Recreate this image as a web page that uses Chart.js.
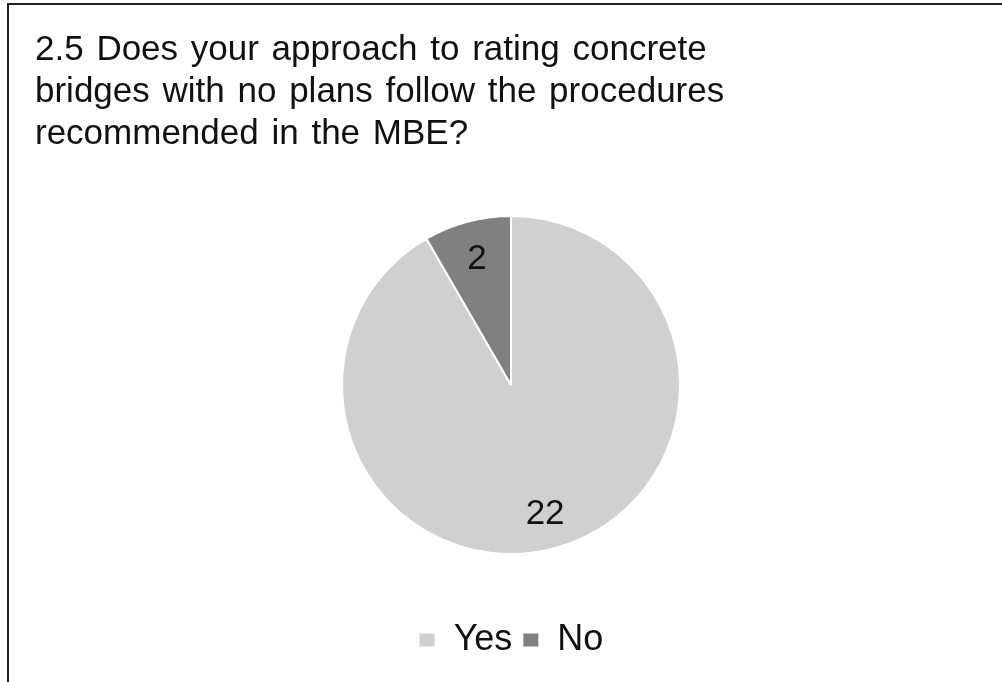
<!DOCTYPE html>
<html>
<head>
<meta charset="utf-8">
<script src="https://cdn.jsdelivr.net/npm/chart.js@4"></script>
<style>
  html, body { margin: 0; padding: 0; background: #fff; }
  #frame {
    position: absolute; left: 7px; top: 3px; width: 1010px; height: 700px;
    border-left: 2px solid #1e1e1e; border-top: 2px solid #1e1e1e;
  }
  #wrap { position: absolute; left: 0; top: 0; width: 1002px; height: 682px; }
</style>
</head>
<body>
<div id="frame"></div>
<div id="wrap"><canvas id="pie" width="1002" height="682"></canvas></div>
<script>
// survey answers
var answers = ['Yes', 'No'];
var counts = [22, 2];
var sliceColors = ['#d0d0d0', '#808080'];
var titleLines = [
  '2.5 Does your approach to rating concrete',
  'bridges with no plans follow the procedures',
  'recommended in the MBE?'
];

var fontFamily = '"Liberation Sans", Arial, sans-serif';

// slightly wider gaps between words, like the office-style title
var wideWords = {
  id: 'wideWords',
  beforeDraw: function (chart) {
    chart.ctx.save();
    if ('wordSpacing' in chart.ctx) chart.ctx.wordSpacing = '3px';
  },
  afterDraw: function (chart) {
    chart.ctx.restore();
  }
};

// write the count inside each slice
var sliceLabels = {
  id: 'sliceLabels',
  afterDatasetsDraw: function (chart) {
    var ctx = chart.ctx;
    var meta = chart.getDatasetMeta(0);
    ctx.save();
    ctx.font = '35px ' + fontFamily;
    ctx.fillStyle = '#111';
    ctx.textAlign = 'center';
    ctx.textBaseline = 'middle';
    meta.data.forEach(function (arc, i) {
      var mid = (arc.startAngle + arc.endAngle) / 2;
      var r = arc.outerRadius * 0.78;
      ctx.fillText(String(counts[i]), arc.x + Math.cos(mid) * r, arc.y + Math.sin(mid) * r + 2);
    });
    ctx.restore();
  }
};

var ctx = document.getElementById('pie').getContext('2d');
new Chart(ctx, {
  type: 'pie',
  data: {
    labels: answers,
    datasets: [{
      data: counts,
      backgroundColor: sliceColors,
      borderColor: '#ffffff',
      borderWidth: 2,
      radius: 169
    }]
  },
  options: {
    responsive: false,
    animation: false,
    layout: { padding: { left: 35, right: 15, top: 4, bottom: 14 } },
    plugins: {
      title: {
        display: true,
        text: titleLines,
        align: 'start',
        color: '#111',
        font: { family: fontFamily, size: 35, weight: 'normal', lineHeight: '42px' },
        padding: { top: 25, bottom: 3 }
      },
      legend: {
        position: 'bottom',
        labels: {
          color: '#111',
          font: { family: fontFamily, size: 36 },
          boxWidth: 17,
          boxHeight: 15,
          padding: 10
        }
      },
      tooltip: { enabled: false }
    }
  },
  plugins: [wideWords, sliceLabels]
});
</script>
</body>
</html>
